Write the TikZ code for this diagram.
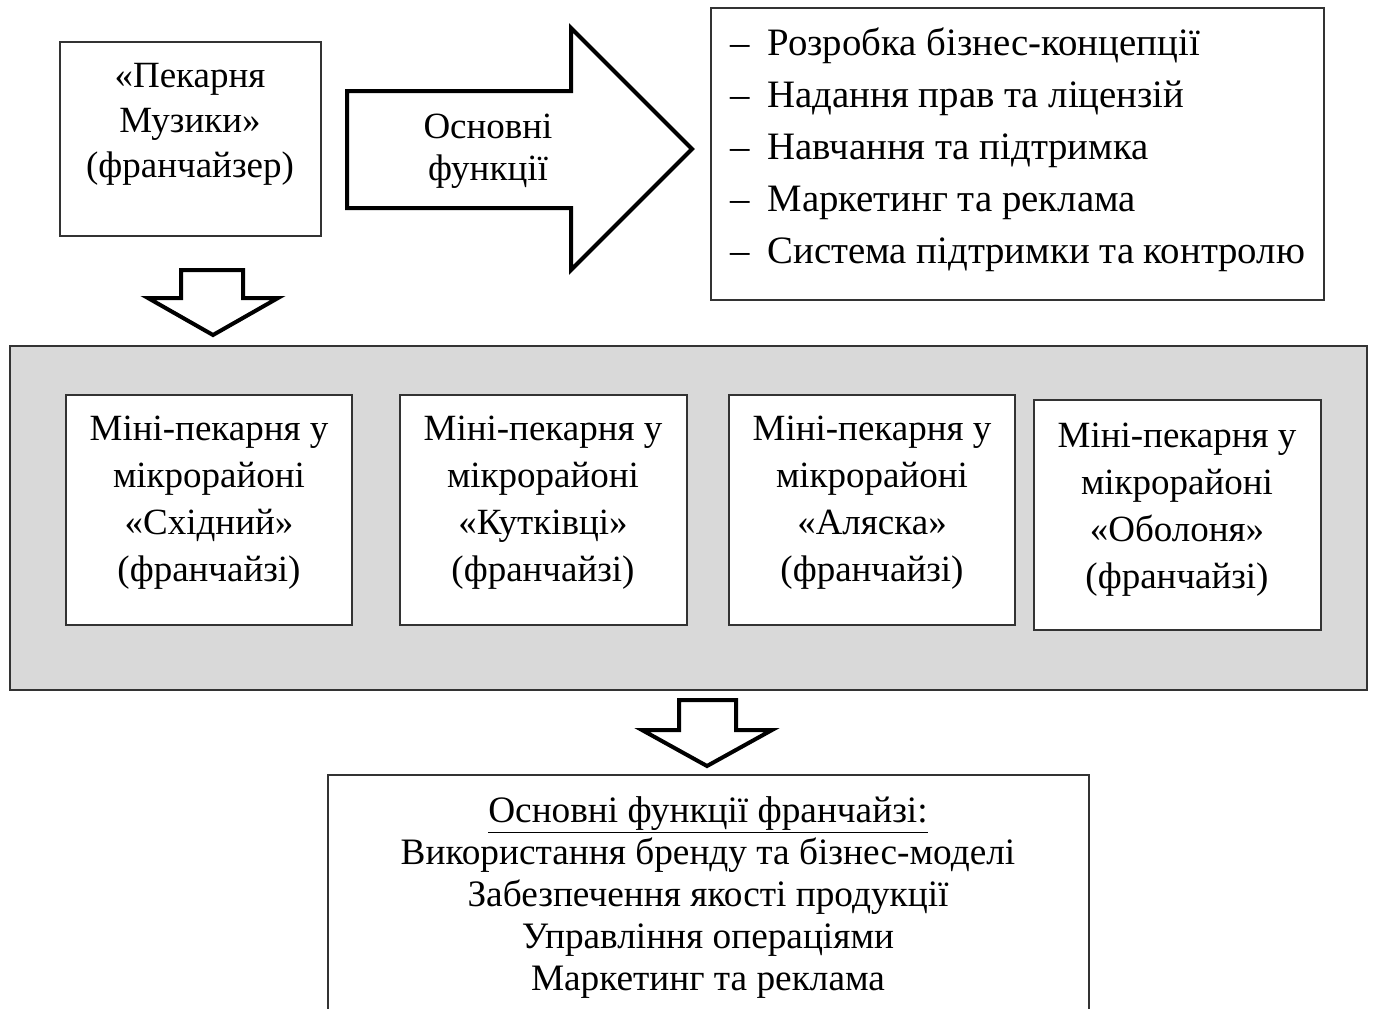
\documentclass[tikz,border=0pt]{standalone}
\usepackage{fontspec}
\setmainfont{Liberation Serif}
\begin{document}
\begin{tikzpicture}[x=1pt,y=-1pt,
  thinbox/.style={draw=black!80, line width=1.2pt, fill=white},
  fatarrow/.style={draw=black, line width=4pt, line join=miter, fill=white},
  txt/.style={inner sep=0pt, align=center}]
\useasboundingbox (0,0) rectangle (1373,1009);
% franchisor
\draw[thinbox] (60,42) rectangle (321,236);
\node[txt, font=\fontsize{37}{45}\selectfont] (fr) at (190,124) {«Пекарня\\Музики»\\(франчайзер)};
% big arrow
\draw[fatarrow] (347,91) -- (571,91) -- (571,28) -- (692,149) -- (571,270) -- (571,208) -- (347,208) -- cycle;
\node[txt, font=\fontsize{37}{42}\selectfont] (of) at (488,151) {Основні\\функції};
% right list
\draw[thinbox] (711,8) rectangle (1324,300);
\node[inner sep=0pt, anchor=west, align=left, font=\fontsize{38.8}{52}\selectfont] (list) at (730,150)
 {–\hspace{18pt}Розробка бізнес-концепції\\
  –\hspace{18pt}Надання прав та ліцензій\\
  –\hspace{18pt}Навчання та підтримка\\
  –\hspace{18pt}Маркетинг та реклама\\
  –\hspace{18pt}Система підтримки та контролю};
% small arrow 1
\draw[fatarrow] (181,270) -- (243,270) -- (243,298) -- (278,298) -- (213,335) -- (148,298) -- (181,298) -- cycle;
% gray area
\draw[draw=black!80, line width=1.2pt, fill=black!15] (10,346) rectangle (1367,690);
\draw[thinbox] (66,395) rectangle (352,625);
\draw[thinbox] (400,395) rectangle (687,625);
\draw[thinbox] (729,395) rectangle (1015,625);
\draw[thinbox] (1034,400) rectangle (1321,630);
\node[txt, font=\fontsize{37}{47}\selectfont] (m1) at (209,503) {Міні-пекарня у\\мікрорайоні\\«Східний»\\(франчайзі)};
\node[txt, font=\fontsize{37}{47}\selectfont] (m2) at (543,503) {Міні-пекарня у\\мікрорайоні\\«Кутківці»\\(франчайзі)};
\node[txt, font=\fontsize{37}{47}\selectfont] (m3) at (872,503) {Міні-пекарня у\\мікрорайоні\\«Аляска»\\(франчайзі)};
\node[txt, font=\fontsize{37}{47}\selectfont] (m4) at (1177,510) {Міні-пекарня у\\мікрорайоні\\«Оболоня»\\(франчайзі)};
% small arrow 2
\draw[fatarrow] (679,700) -- (736,700) -- (736,730) -- (772,730) -- (707,766) -- (642,730) -- (679,730) -- cycle;
% bottom box
\draw[thinbox] (328,775) rectangle (1089,1015);
\node[txt, font=\fontsize{37.3}{42}\selectfont] (bot) at (708,898)
 {\underline{Основні функції франчайзі:}\\Використання бренду та бізнес-моделі\\Забезпечення якості продукції\\Управління операціями\\Маркетинг та реклама};
\end{tikzpicture}
\end{document}
